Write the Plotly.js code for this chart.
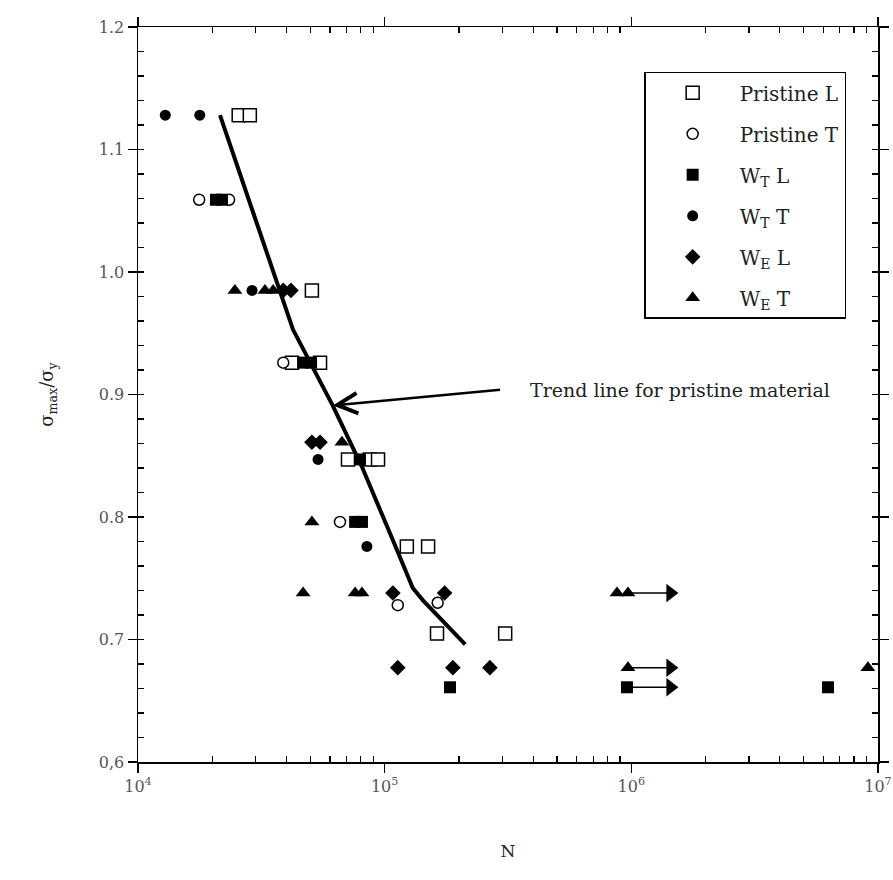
<!DOCTYPE html>
<html>
<head>
<meta charset="utf-8">
<script src="https://cdn.plot.ly/plotly-3.0.1.min.js"></script>
<style>html,body{margin:0;padding:0;background:#fff;}#chart{width:893px;height:880px;}</style>
</head>
<body>
<div id="chart"></div>
<script>
// ---- data (cycles to failure N, normalised stress sigma_max/sigma_y) ----
const pristineL_N = [25600, 28400, 50700, 42100, 54700, 71000, 87100, 94000, 123000, 150000, 163000, 308000];
const pristineL_S = [1.128, 1.128, 0.985, 0.926, 0.926, 0.847, 0.847, 0.847, 0.776, 0.776, 0.705, 0.705];

const pristineT_N = [17700, 23400, 38800, 65900, 113000, 164000];
const pristineT_S = [1.059, 1.059, 0.926, 0.796, 0.728, 0.730];

const wTL_N = [20700, 21900, 46700, 50300, 79400, 75900, 80900, 184000, 960000, 6270000];
const wTL_S = [1.059, 1.059, 0.926, 0.926, 0.847, 0.796, 0.796, 0.661, 0.661, 0.661];

const wTT_N = [12900, 17800, 29000, 53700, 84700];
const wTT_S = [1.128, 1.128, 0.985, 0.847, 0.776];

const wEL_N = [38800, 41700, 50700, 54700, 108000, 175000, 113000, 189000, 267000];
const wEL_S = [0.985, 0.985, 0.861, 0.861, 0.738, 0.738, 0.677, 0.677, 0.677];

const wET_N = [24700, 32700, 35300, 67100, 50700, 46700, 75900, 80900, 875000, 969000, 969000, 9100000];
const wET_S = [0.985, 0.985, 0.985, 0.861, 0.796, 0.738, 0.738, 0.738, 0.738, 0.738, 0.677, 0.677];

// run-out (unbroken) specimens: arrow start / end
const runout_start_N = [969000, 969000, 960000];
const runout_end_N = [1440000, 1440000, 1440000];
const runout_S = [0.738, 0.677, 0.661];

// trend line for pristine material
const trend_N = [21500, 42500, 61600, 80900, 108000, 130000, 143000, 212000];
const trend_S = [1.128, 0.953, 0.891, 0.841, 0.781, 0.742, 0.732, 0.696];

// annotation arrow (tail -> tip) and label
const trendArrowTip = {N: 61600, S: 0.891};
const trendArrowTail = {N: 298000, S: 0.904};
const trendLabel = {N: 380000, S: 0.904, text: "Trend line for pristine material"};

const xTickVals = [1e4, 1e5, 1e6, 1e7];
const xTickText = ["10<sup>4</sup>", "10<sup>5</sup>", "10<sup>6</sup>", "10<sup>7</sup>"];
const yTickVals = [0.6, 0.7, 0.8, 0.9, 1.0, 1.1, 1.2];
const yTickText = ["0,6", "0.7", "0.8", "0.9", "1.0", "1.1", "1.2"];
const xMinorVals = [];
[1e4, 1e5, 1e6].forEach(d => { for (let k = 2; k <= 9; k++) xMinorVals.push(k * d); });

// ---- traces ----
const serif = "DejaVu Serif, Liberation Serif, serif";
const traces = [];
traces.push({x: trend_N, y: trend_S, mode: "lines", line: {color: "#000", width: 4}, showlegend: false, hoverinfo: "skip"});
for (let i = 0; i < runout_S.length; i++) {
  traces.push({x: [runout_start_N[i], runout_end_N[i]], y: [runout_S[i], runout_S[i]], mode: "lines",
    line: {color: "#000", width: 1.5}, showlegend: false, hoverinfo: "skip"});
}
traces.push({x: runout_end_N, y: runout_S, mode: "markers", showlegend: false,
  marker: {symbol: "triangle-right", size: 16, color: "#000"}});

const mk = (name, x, y, symbol, size, open) => ({
  name: name, legendgroup: name, x: x, y: y, mode: "markers", type: "scatter",
  marker: {symbol: symbol, size: size, color: open ? "#fff" : "#000", line: {color: "#000", width: open ? 1.5 : 0}}
});
traces.push(mk("Pristine L", pristineL_N, pristineL_S, "square", 13, true));
traces.push(mk("Pristine T", pristineT_N, pristineT_S, "circle", 11, true));
traces.push(mk("W<sub>T</sub> L", wTL_N, wTL_S, "square", 12, false));
traces.push(mk("W<sub>T</sub> T", wTT_N, wTT_S, "circle", 11, false));
traces.push(mk("W<sub>E</sub> L", wEL_N, wEL_S, "diamond", 12, false));
traces.push(mk("W<sub>E</sub> T", wET_N, wET_S, "triangle-up", 13, false));

// overlay axes for inner minor tick marks
traces.push({x: [1e4], y: [0.6], xaxis: "x2", yaxis: "y2", mode: "markers", marker: {opacity: 0}, showlegend: false, hoverinfo: "skip"});

const tickFont = {family: serif, size: 16, color: "#555"};
const layout = {
  width: 893, height: 880,
  margin: {l: 138, r: 15, t: 27, b: 118},
  paper_bgcolor: "#fff", plot_bgcolor: "#fff",
  showlegend: true,
  font: {family: serif, color: "#222"},
  xaxis: {
    type: "log", range: [4, 7], showgrid: false, zeroline: false,
    showline: true, linecolor: "#000", linewidth: 1.5, mirror: "ticks",
    ticks: "outside", ticklen: 9, tickwidth: 1.5, tickcolor: "#000",
    tickvals: xTickVals, ticktext: xTickText, tickfont: tickFont,
    title: {text: "N", font: {family: serif, size: 17, color: "#222"}, standoff: 50}
  },
  yaxis: {
    range: [0.6, 1.2], showgrid: false, zeroline: false,
    showline: true, linecolor: "#000", linewidth: 1.5, mirror: "ticks",
    ticks: "outside", ticklen: 9, tickwidth: 1.5, tickcolor: "#000",
    tickvals: yTickVals, ticktext: yTickText, tickfont: tickFont,
    title: {text: "σ<sub>max</sub>/σ<sub>y</sub>", font: {family: serif, size: 18, color: "#222"}, standoff: 40}
  },
  xaxis2: {
    type: "log", range: [4, 7], overlaying: "x", anchor: "y2", showgrid: false, zeroline: false,
    showline: false, mirror: "ticks", ticks: "inside", ticklen: 6, tickwidth: 1.2, tickcolor: "#000",
    tickvals: xMinorVals, showticklabels: false
  },
  yaxis2: {
    range: [0.6, 1.2], overlaying: "y", anchor: "x2", showgrid: false, zeroline: false,
    showline: false, mirror: "ticks", ticks: "inside", ticklen: 6, tickwidth: 1.2, tickcolor: "#000",
    dtick: 0.02, tick0: 0.6, showticklabels: false
  },
  legend: {
    x: 0.684, y: 0.939, xanchor: "left", yanchor: "top",
    bgcolor: "#fff", bordercolor: "#000", borderwidth: 1.5,
    font: {family: serif, size: 20, color: "#222"},
    traceorder: "grouped", tracegroupgap: 12, itemwidth: 84, entrywidth: 240
  },
  annotations: [
    {x: Math.log10(trendArrowTip.N), y: trendArrowTip.S, ax: Math.log10(trendArrowTail.N), ay: trendArrowTail.S,
     axref: "x", ayref: "y", xref: "x", yref: "y", text: "", showarrow: true,
     arrowhead: 5, arrowsize: 1.6, arrowwidth: 2.5, arrowcolor: "#000"},
    {x: Math.log10(trendLabel.N), y: trendLabel.S, xref: "x", yref: "y", text: trendLabel.text,
     showarrow: false, xanchor: "left", yanchor: "middle", font: {family: serif, size: 19, color: "#222"}}
  ]
};
Plotly.newPlot("chart", traces, layout, {staticPlot: true, displayModeBar: false});
</script>
</body>
</html>
